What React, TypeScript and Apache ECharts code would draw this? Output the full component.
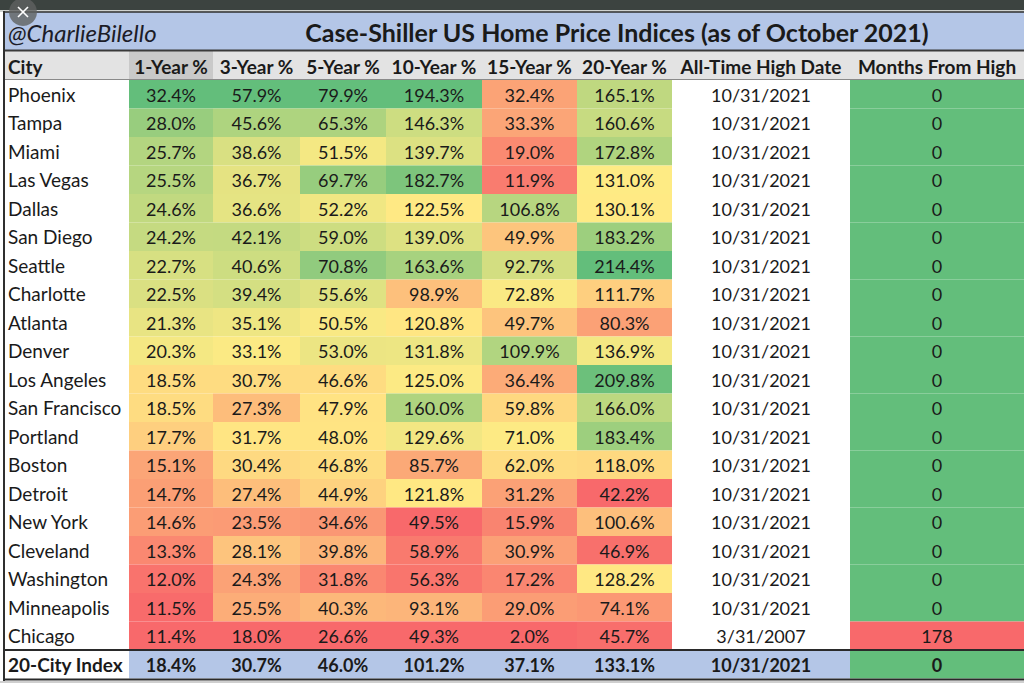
import React, { useEffect, useRef } from 'react';
import * as echarts from 'echarts';

// ---------- data ----------
const cities = ['Phoenix', 'Tampa', 'Miami', 'Las Vegas', 'Dallas', 'San Diego', 'Seattle', 'Charlotte', 'Atlanta', 'Denver', 'Los Angeles', 'San Francisco', 'Portland', 'Boston', 'Detroit', 'New York', 'Cleveland', 'Washington', 'Minneapolis', 'Chicago'];
const indexName = '20-City Index';
const headers = ['City', '1-Year %', '3-Year %', '5-Year %', '10-Year %', '15-Year %', '20-Year %', 'All-Time High Date', 'Months From High'];

const oneYear = [32.4, 28.0, 25.7, 25.5, 24.6, 24.2, 22.7, 22.5, 21.3, 20.3, 18.5, 18.5, 17.7, 15.1, 14.7, 14.6, 13.3, 12.0, 11.5, 11.4];
const threeYear = [57.9, 45.6, 38.6, 36.7, 36.6, 42.1, 40.6, 39.4, 35.1, 33.1, 30.7, 27.3, 31.7, 30.4, 27.4, 23.5, 28.1, 24.3, 25.5, 18.0];
const fiveYear = [79.9, 65.3, 51.5, 69.7, 52.2, 59.0, 70.8, 55.6, 50.5, 53.0, 46.6, 47.9, 48.0, 46.8, 44.9, 34.6, 39.8, 31.8, 40.3, 26.6];
const tenYear = [194.3, 146.3, 139.7, 182.7, 122.5, 139.0, 163.6, 98.9, 120.8, 131.8, 125.0, 160.0, 129.6, 85.7, 121.8, 49.5, 58.9, 56.3, 93.1, 49.3];
const fifteenYear = [32.4, 33.3, 19.0, 11.9, 106.8, 49.9, 92.7, 72.8, 49.7, 109.9, 36.4, 59.8, 71.0, 62.0, 31.2, 15.9, 30.9, 17.2, 29.0, 2.0];
const twentyYear = [165.1, 160.6, 172.8, 131.0, 130.1, 183.2, 214.4, 111.7, 80.3, 136.9, 209.8, 166.0, 183.4, 118.0, 42.2, 100.6, 46.9, 128.2, 74.1, 45.7];
const highDates = ['10/31/2021', '10/31/2021', '10/31/2021', '10/31/2021', '10/31/2021', '10/31/2021', '10/31/2021', '10/31/2021', '10/31/2021', '10/31/2021', '10/31/2021', '10/31/2021', '10/31/2021', '10/31/2021', '10/31/2021', '10/31/2021', '10/31/2021', '10/31/2021', '10/31/2021', '3/31/2007'];
const monthsFromHigh = [0, 0, 0, 0, 0, 0, 0, 0, 0, 0, 0, 0, 0, 0, 0, 0, 0, 0, 0, 178];

const indexReturns = [18.4, 30.7, 46.0, 101.2, 37.1, 133.1];
const indexHighDate = '10/31/2021';
const indexMonths = 0;

// ---------- layout / style ----------
const colEdges = [129, 213, 300, 386, 482, 577, 672, 850, 1024];
const FONT = 'Lato';
const TEXT = '#1a1a1a';
const BLUE = '#b4c6e7';
const RED = [248, 105, 107];
const YEL = [255, 235, 132];
const GRN = [99, 190, 123];
const CELL_FS = 18;
const LABEL_FS = 19;
const HEAD_FS = 19;

function mix(a: number[], b: number[], t: number) {
  const k = Math.max(0, Math.min(1, t));
  const c = a.map((v, i) => Math.round(v + (b[i] - v) * k));
  return `rgb(${c[0]},${c[1]},${c[2]})`;
}
function median(arr: number[]) {
  const s = [...arr].sort((a, b) => a - b);
  const n = s.length;
  return n % 2 ? s[(n - 1) / 2] : (s[n / 2 - 1] + s[n / 2]) / 2;
}
function colorFor(v: number, lo: number, mid: number, hi: number, lowCol: number[], highCol: number[]) {
  if (v <= mid) return mix(lowCol, YEL, mid === lo ? 1 : (v - lo) / (mid - lo));
  return mix(YEL, highCol, hi === mid ? 1 : (v - mid) / (hi - mid));
}

const returnCols = [oneYear, threeYear, fiveYear, tenYear, fifteenYear, twentyYear];
const anchors = returnCols.map((arr) => [Math.min(...arr), median(arr), Math.max(...arr)]);
anchors[4] = [Math.min(...fifteenYear), 70, 150];

type Cell = { text: string; fill: string; bold: boolean };
const cells: Cell[] = [];
const cellData: number[][] = [];
const rowCount = cities.length + 1;
for (let r = 0; r < rowCount; r++) {
  const isIndex = r === cities.length;
  for (let c = 0; c < 8; c++) {
    let text = '';
    let fill = '#ffffff';
    if (c < 6) {
      const v = isIndex ? indexReturns[c] : returnCols[c][r];
      text = v.toFixed(1) + '%';
      const [lo, mid, hi] = anchors[c];
      fill = isIndex ? BLUE : colorFor(v, lo, mid, hi, RED, GRN);
    } else if (c === 6) {
      text = isIndex ? indexHighDate : highDates[r];
      fill = isIndex ? BLUE : '#ffffff';
    } else {
      const v = isIndex ? indexMonths : monthsFromHigh[r];
      text = String(v);
      const hi = Math.max(...monthsFromHigh);
      fill = colorFor(v, 0, hi / 2, hi, GRN, RED);
    }
    cells.push({ text, fill, bold: isIndex });
    cellData.push([c, r]);
  }
}

export default function App() {
  const ref = useRef<HTMLDivElement>(null);
  useEffect(() => {
    const chart = echarts.init(ref.current!, null, { renderer: 'svg' });
    const headerTexts = headers.map((h, i) => {
      if (i === 0) {
        return { type: 'text', z: 50, style: { text: h, x: 8, y: 66, font: `bold ${HEAD_FS}px ${FONT}`, fill: TEXT, align: 'left', verticalAlign: 'middle', textAlign: 'left', textVerticalAlign: 'middle' } };
      }
      const cx = (colEdges[i - 1] + colEdges[i]) / 2;
      return { type: 'text', z: 50, style: { text: h, x: cx, y: 66, font: `bold ${HEAD_FS}px ${FONT}`, fill: TEXT, align: 'center', verticalAlign: 'middle', textAlign: 'center', textVerticalAlign: 'middle' } };
    });
    const line = (x1: number, y1: number, x2: number, y2: number, stroke: string, w: number, z = 100) => ({
      type: 'line', z, shape: { x1, y1, x2, y2 }, style: { stroke, lineWidth: w },
    });
    chart.setOption({
      animation: false,
      backgroundColor: '#ffffff',
      grid: { left: 0, right: 0, top: 80, height: rowCount * 28.5, containLabel: false },
      xAxis: { type: 'value', min: 0, max: 1024, show: false },
      yAxis: {
        type: 'category',
        inverse: true,
        data: [...cities, indexName],
        axisLine: { show: false },
        axisTick: { show: false },
        splitLine: { show: false },
        z: 10,
        axisLabel: {
          inside: true,
          align: 'left',
          margin: 8,
          fontFamily: FONT,
          fontSize: LABEL_FS,
          color: TEXT,
          formatter: (v: string) => (v === indexName ? `{b|${v}}` : v),
          rich: { b: { fontFamily: FONT, fontSize: LABEL_FS, fontWeight: 'bold', color: TEXT } },
        },
      },
      series: [
        {
          type: 'custom',
          coordinateSystem: 'cartesian2d',
          data: cellData,
          renderItem: (params: any, api: any) => {
            const c = api.value(0);
            const r = api.value(1);
            const cell = cells[params.dataIndex];
            const p0 = api.coord([colEdges[c], r]);
            const p1 = api.coord([colEdges[c + 1], r]);
            const h = api.size([0, 1])[1];
            return {
              type: 'group',
              children: [
                { type: 'rect', shape: { x: p0[0], y: p0[1] - h / 2, width: p1[0] - p0[0], height: h }, style: { fill: cell.fill } },
                {
                  type: 'text',
                  style: {
                    text: cell.text, x: (p0[0] + p1[0]) / 2, y: p0[1] + 0.5,
                    font: `${cell.bold ? 'bold ' : ''}${CELL_FS}px ${FONT}`, fill: TEXT,
                    align: 'center', verticalAlign: 'middle', textAlign: 'center', textVerticalAlign: 'middle',
                  },
                },
              ],
            };
          },
        },
      ],
      graphic: [
        { type: 'rect', z: 1, shape: { x: 0, y: 0, width: 1024, height: 10 }, style: { fill: '#3c4340' } },
        { type: 'rect', z: 1, shape: { x: 0, y: 10, width: 1024, height: 2 }, style: { fill: '#cfd2d0' } },
        { type: 'rect', z: 1, shape: { x: 4, y: 12, width: 1020, height: 38 }, style: { fill: BLUE } },
        { type: 'rect', z: 1, shape: { x: 4, y: 51, width: 1020, height: 28 }, style: { fill: '#e3e3e3' } },
        { type: 'rect', z: 2, shape: { x: colEdges[0], y: 51, width: colEdges[1] - colEdges[0], height: 28 }, style: { fill: '#c9c9c9' } },
        { type: 'rect', z: 1, shape: { x: 0, y: 681, width: 1024, height: 2 }, style: { fill: '#cfcfcf' } },
        line(4, 12, 1024, 12, '#2f2f2f', 1.5),
        line(4, 50.5, 1024, 50.5, '#3a3a3a', 2),
        line(4, 79.5, 1024, 79.5, '#8a8a8a', 1),
        line(4, 650, 1024, 650, '#2a2a2a', 2),
        line(4, 679.5, 1024, 679.5, '#2a2a2a', 2),
        line(4, 11, 4, 681, '#2f2f2f', 2),
        { type: 'text', z: 50, style: { text: '@CharlieBilello', x: 8, y: 32, font: `italic 24px ${FONT}`, fill: '#1c1c28', align: 'left', verticalAlign: 'middle', textAlign: 'left', textVerticalAlign: 'middle' } },
        { type: 'text', z: 50, style: { text: 'Case-Shiller US Home Price Indices (as of October 2021)', x: 617, y: 32, font: `bold 25px ${FONT}`, fill: TEXT, align: 'center', verticalAlign: 'middle', textAlign: 'center', textVerticalAlign: 'middle' } },
        ...headerTexts,
        { type: 'circle', z: 200, shape: { cx: 23, cy: 12, r: 14 }, style: { fill: 'rgba(95,98,96,0.8)' } },
        line(18, 7, 28, 17, '#ffffff', 1.6, 201),
        line(28, 7, 18, 17, '#ffffff', 1.6, 201),
      ],
    });
    return () => chart.dispose();
  }, []);
  return <div ref={ref} style={{ position: 'absolute', left: 0, top: 0, width: 1024, height: 683 }} />;
}
